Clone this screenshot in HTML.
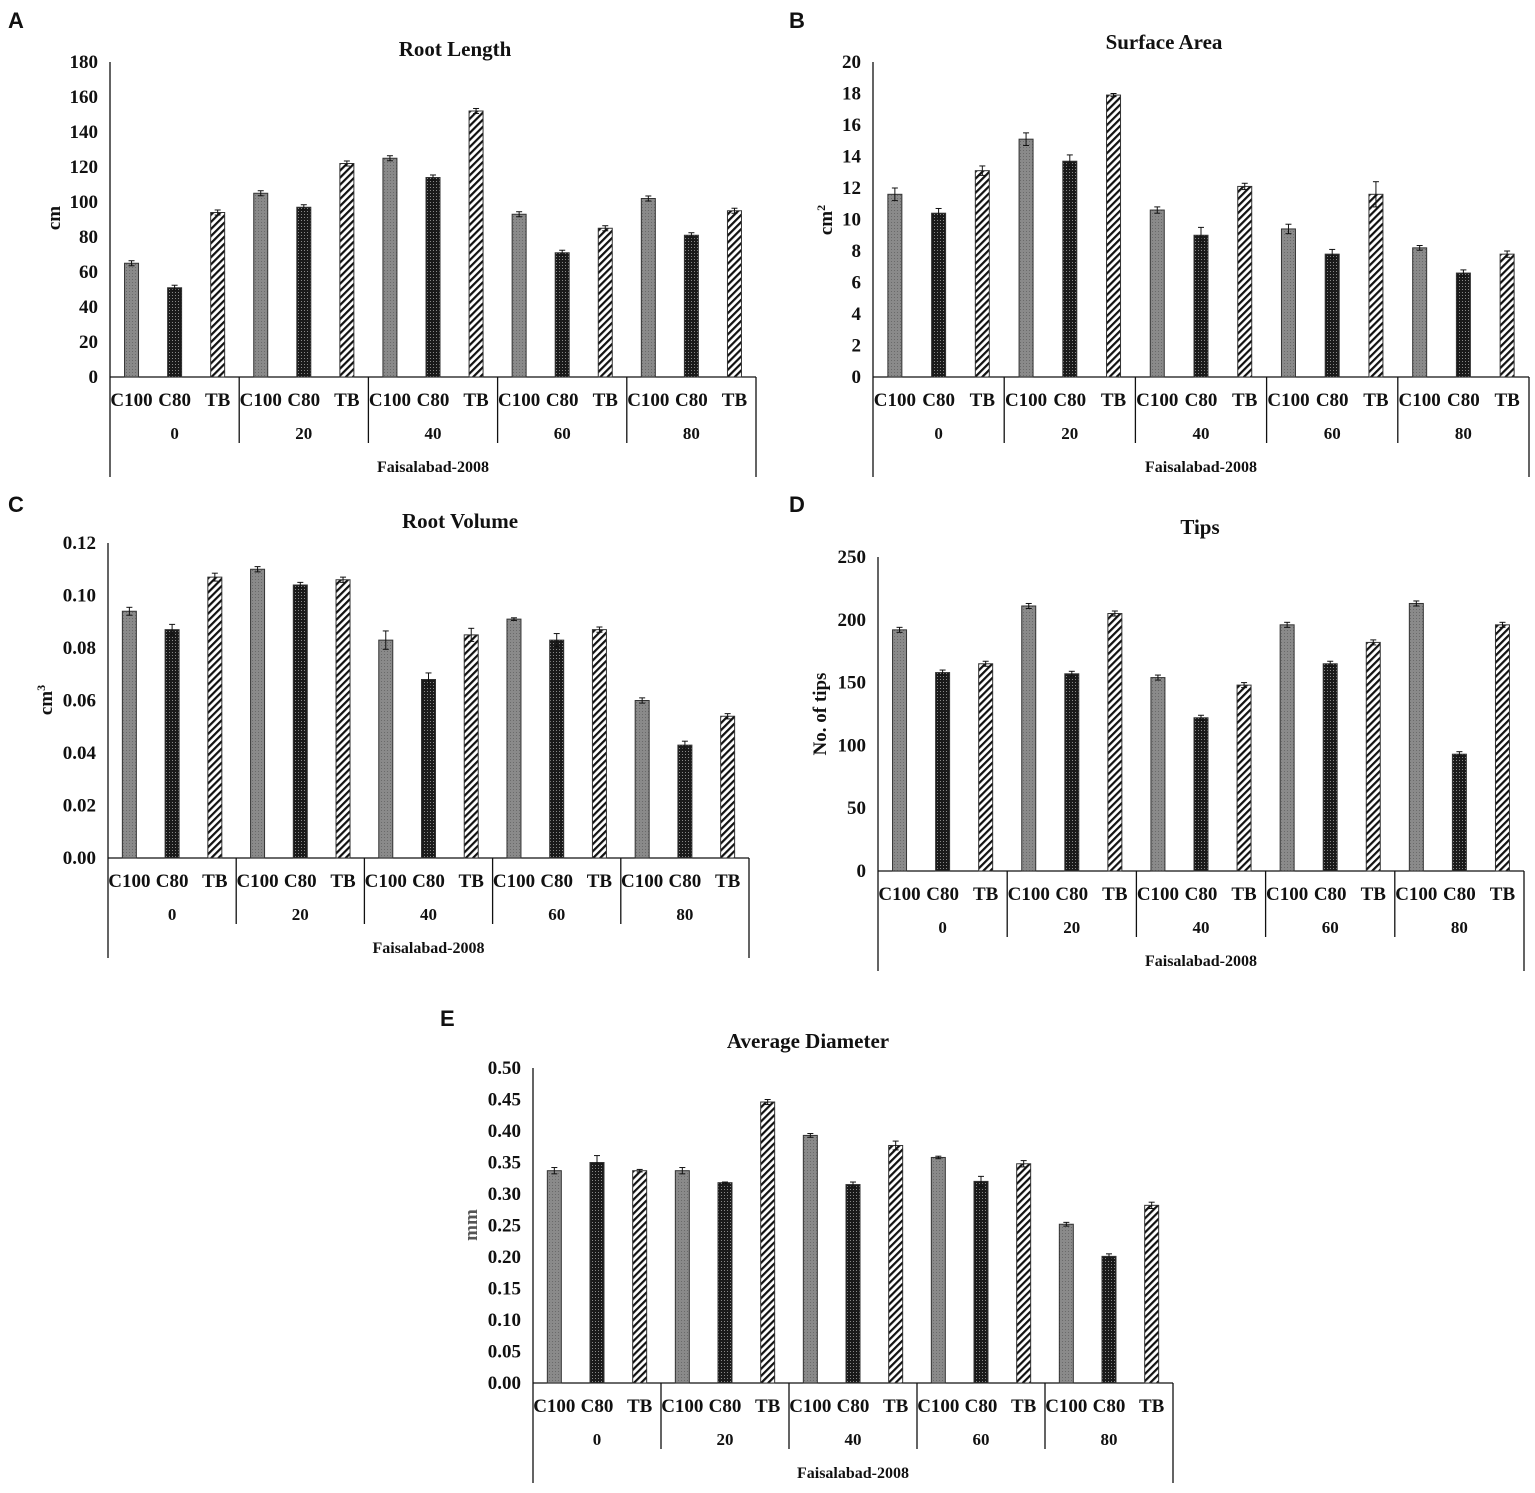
<!DOCTYPE html>
<html><head><meta charset="utf-8"><style>
html,body{margin:0;padding:0;background:#fff;}
svg text{font-family:"Liberation Serif",serif;font-weight:bold;fill:#111;}
</style></head><body>
<svg id="s" width="1535" height="1488" xmlns="http://www.w3.org/2000/svg">
<defs>
<pattern id="pg" width="3" height="3" patternUnits="userSpaceOnUse"><rect width="3" height="3" fill="#8a8a8a"/><rect width="1" height="1" fill="#6a6a6a"/></pattern>
<pattern id="pd" width="3" height="3" patternUnits="userSpaceOnUse"><rect width="3" height="3" fill="#1a1a1a"/><rect x="1" y="1" width="1" height="1" fill="#888"/></pattern>
<pattern id="ps" width="5" height="5" patternUnits="userSpaceOnUse" patternTransform="rotate(45)"><rect width="5" height="5" fill="#fff"/><rect width="2.2" height="5" fill="#111"/></pattern>
</defs>
</svg>
<script>
const s=document.getElementById('s');
function el(t,a,txt){const e=document.createElementNS('http://www.w3.org/2000/svg',t);for(const k in a)e.setAttribute(k,a[k]);if(txt!==undefined)e.textContent=txt;s.appendChild(e);return e;}
function line(x1,y1,x2,y2,w){el('line',{x1,y1,x2,y2,stroke:'#111','stroke-width':w||1.3});}
function panel(p){
 const {x0,top,bot,right,max,step,dec,vals,errs,title,tx,ty,yl,ylx,yly,letter,lx,ly,ylcol}=p;
 const gw=(right-x0)/5;
 const sc=v=>bot-(v/max)*(bot-top);
 for(let v=0;v<=max+1e-9;v+=step){el('text',{x:x0-12,y:sc(v)+6,'text-anchor':'end','font-size':19},v.toFixed(dec));}
 line(x0,top,x0,bot+100);
 line(x0,bot,right,bot);
 line(right,bot,right,bot+100);
 for(let g=1;g<5;g++)line(x0+g*gw,bot,x0+g*gw,bot+66);
 const cats=['C100','C80','TB'],fills=['url(#pg)','url(#pd)','url(#ps)'];
 const gl=['0','20','40','60','80'];
 for(let g=0;g<5;g++){
  for(let i=0;i<3;i++){
   const cx=x0+g*gw+gw/6*(2*i+1);
   const v=vals[g*3+i],y=sc(v);
   el('rect',{x:cx-7,y:y,width:14,height:bot-y,fill:fills[i],stroke:'#333','stroke-width':1});
   const e=errs?errs[g*3+i]:max*0.008;
   const y1=sc(v+e),y2=sc(v-e);
   line(cx,y1,cx,y2,1);line(cx-3,y1,cx+3,y1,1);line(cx-3,y2,cx+3,y2,1);
   el('text',{x:cx,y:bot+29,'text-anchor':'middle','font-size':19},cats[i]);
  }
  el('text',{x:x0+g*gw+gw/2,y:bot+62,'text-anchor':'middle','font-size':17},gl[g]);
 }
 el('text',{x:(x0+right)/2,y:bot+95,'text-anchor':'middle','font-size':16},'Faisalabad-2008');
 el('text',{x:tx,y:ty,'text-anchor':'middle','font-size':21},title);
 const t=el('text',{x:ylx,y:yly,'text-anchor':'middle','font-size':19,transform:`rotate(-90 ${ylx} ${yly})`});
 if(ylcol)t.setAttribute('style','fill:'+ylcol);
 t.innerHTML=yl;
 el('text',{x:lx,y:ly,'font-size':22,style:'font-family:"Liberation Sans",sans-serif'},letter);
}
panel({x0:110,top:62,bot:377,right:756,max:180,step:20,dec:0,
 vals:[65,51,94,105,97,122,125,114,152,93,71,85,102,81,95],
 title:'Root Length',tx:455,ty:56,yl:'cm',ylx:60,yly:218,letter:'A',lx:8,ly:28});
panel({x0:873,top:62,bot:377,right:1529,max:20,step:2,dec:0,
 vals:[11.6,10.4,13.1,15.1,13.7,17.9,10.6,9.0,12.1,9.4,7.8,11.6,8.2,6.6,7.8],
 errs:[0.4,0.3,0.3,0.4,0.4,0.1,0.2,0.5,0.2,0.3,0.3,0.8,0.15,0.2,0.2],
 title:'Surface Area',tx:1164,ty:49,yl:'cm<tspan dy="-7" font-size="12">2</tspan>',ylx:832,yly:220,letter:'B',lx:789,ly:28});
panel({x0:108,top:543,bot:858,right:749,max:0.12,step:0.02,dec:2,
 vals:[.094,.087,.107,.110,.104,.106,.083,.068,.085,.091,.083,.087,.060,.043,.054],
 errs:[.0015,.002,.0015,.001,.001,.001,.0035,.0025,.0025,.0005,.0025,.001,.001,.0015,.001],
 title:'Root Volume',tx:460,ty:528,yl:'cm<tspan dy="-7" font-size="12">3</tspan>',ylx:52,yly:700,letter:'C',lx:8,ly:512});
panel({x0:878,top:557,bot:871,right:1524,max:250,step:50,dec:0,
 vals:[192,158,165,211,157,205,154,122,148,196,165,182,213,93,196],
 title:'Tips',tx:1200,ty:534,yl:'No. of tips',ylx:826,yly:714,letter:'D',lx:789,ly:512});
panel({x0:533,top:1068,bot:1383,right:1173,max:0.5,step:0.05,dec:2,
 vals:[.337,.350,.337,.337,.318,.446,.393,.315,.377,.358,.320,.348,.252,.201,.282],
 errs:[.005,.011,.002,.005,.001,.004,.003,.004,.007,.002,.008,.005,.003,.004,.005],
 title:'Average Diameter',tx:808,ty:1048,yl:'mm',ylx:477,yly:1225,ylcol:'#555',letter:'E',lx:440,ly:1026});
</script>
</body></html>
